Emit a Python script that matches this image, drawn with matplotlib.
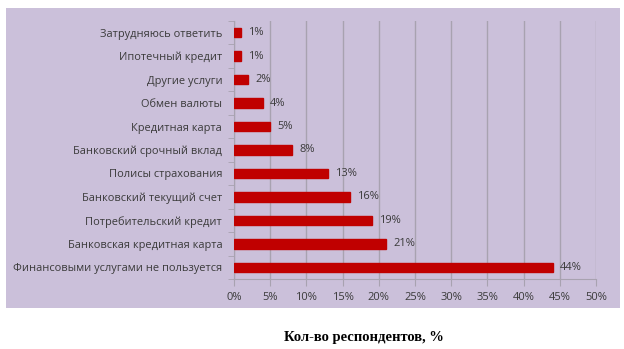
import matplotlib.pyplot as plt
from matplotlib.patches import Rectangle

categories = ['Затрудняюсь ответить', 'Ипотечный кредит', 'Другие услуги',
              'Обмен валюты', 'Кредитная карта', 'Банковский срочный вклад',
              'Полисы страхования', 'Банковский текущий счет',
              'Потребительский кредит', 'Банковская кредитная карта',
              'Финансовыми услугами не пользуется']
values = [1, 1, 2, 4, 5, 8, 13, 16, 19, 21, 44]
xticks = [0, 5, 10, 15, 20, 25, 30, 35, 40, 45, 50]

bg = '#CBC0DA'
grid = '#A8A2B0'
txt = '#3A3A3A'

plt.rcParams['font.family'] = ['Open Sans', 'DejaVu Sans']

fig = plt.figure(figsize=(6.24, 3.49), dpi=100)
fig.patch.set_facecolor('white')
fig.patches.append(Rectangle((6 / 624, 1 - 308 / 349), 614 / 624, 300 / 349,
                             transform=fig.transFigure, facecolor=bg,
                             edgecolor='none', zorder=-5))

ax = fig.add_axes([234 / 624, 1 - 279 / 349, 362 / 624, 258 / 349])
ax.set_facecolor('none')

y = list(range(len(categories)))
ax.barh(y, values, height=0.4, color='#C00000', edgecolor='#C00000', zorder=3)
for yi, v in zip(y, values):
    ax.text(v + 1.0, yi, f'{v}%', va='center', ha='left', fontsize=8, color=txt)

ax.set_ylim(len(categories) - 0.5, -0.5)
ax.set_xlim(0, 50)
ax.set_yticks(y)
ax.set_yticklabels(categories, fontsize=7.9, color=txt)
ax.tick_params(axis='y', length=0, pad=8.5)
ax.set_yticks([i + 0.5 for i in range(-1, len(categories))], minor=True)
ax.tick_params(axis='y', which='minor', length=4, color=grid, direction='out')

ax.set_xticks(xticks)
ax.set_xticklabels([f'{t}%' for t in xticks], fontsize=8, color=txt)
ax.tick_params(axis='x', length=5, color=grid, pad=4)
ax.grid(axis='x', color=grid, linewidth=1, zorder=1)

for s in ['top', 'right']:
    ax.spines[s].set_visible(False)
for s in ['left', 'bottom']:
    ax.spines[s].set_color(grid)

fig.text(364 / 624, 1 - 337 / 349, 'Кол-во респондентов, %', ha='center', va='center',
         fontsize=10.5, fontweight='bold', family=['Liberation Serif', 'DejaVu Serif'])

fig.savefig('out.png', dpi=100)
